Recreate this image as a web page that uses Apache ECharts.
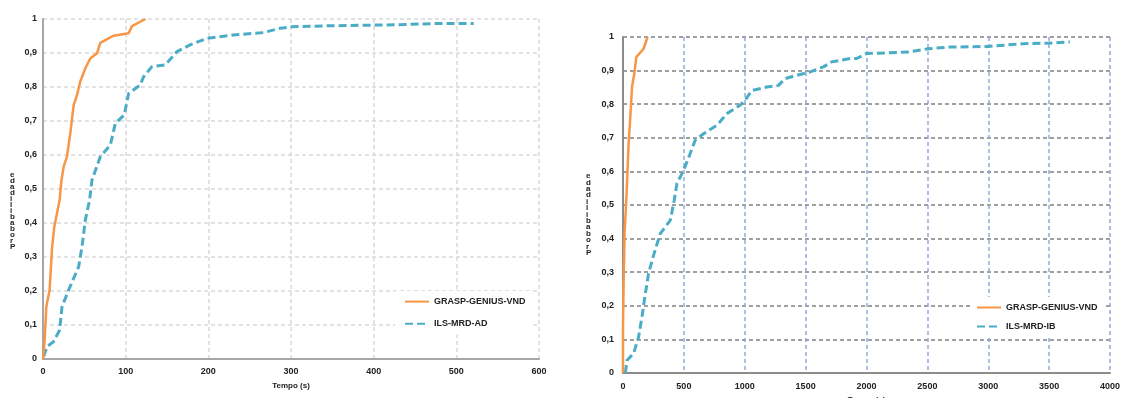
<!DOCTYPE html>
<html>
<head>
<meta charset="utf-8">
<script src="https://cdn.jsdelivr.net/npm/echarts@6/dist/echarts.min.js"></script>
<style>
html,body{margin:0;padding:0;background:#fff;}
#c{width:1122px;height:398px;}
</style>
</head>
<body>
<div id="c"></div>
<script>
// ---- data ----
const leftXTicks = [0,100,200,300,400,500,600];
const rightXTicks = [0,500,1000,1500,2000,2500,3000,3500,4000];

const leftGraspT = [0,2,4,8,10.9,13.7,20.1,22.1,25,29,33,37.1,41.1,45.1,51.2,57.2,65.3,69.3,85.4,103.6,107.6,124];
const leftGraspP = [0,0.056,0.154,0.203,0.326,0.389,0.468,0.521,0.566,0.595,0.664,0.747,0.776,0.816,0.855,0.884,0.899,0.930,0.951,0.958,0.979,1];

const leftIlsT = [0.8,4.8,12.8,20.1,23,31,43.1,47.2,51.2,56.4,59.2,69.3,81.4,87.5,98.3,103.6,117.7,121.7,131.8,148,162,178,198.4,230.6,266.9,287,301,343.5,428,480.6,521];
const leftIlsP = [0.007,0.036,0.051,0.085,0.154,0.203,0.271,0.33,0.409,0.468,0.526,0.595,0.629,0.693,0.718,0.781,0.806,0.830,0.86,0.865,0.904,0.924,0.943,0.953,0.96,0.973,0.977,0.98,0.983,0.987,0.987];

const rightGraspT = [0,0,5,13,27,33,46,60,74,95,109,169,202];
const rightGraspP = [0,0.137,0.266,0.415,0.514,0.564,0.683,0.762,0.851,0.896,0.94,0.965,1];

const rightIlsT = [19,33,87,128,156,175,210,251,306,388,421,443,497,552,593,661,771,853,962,1003,1058,1181,1277,1331,1427,1537,1646,1714,1865,1919,2002,2343,2507,2685,2999,3286,3505,3670];
const rightIlsP = [0,0.038,0.058,0.107,0.167,0.216,0.296,0.35,0.415,0.454,0.514,0.564,0.603,0.653,0.693,0.712,0.737,0.772,0.797,0.812,0.841,0.851,0.856,0.876,0.886,0.896,0.911,0.926,0.936,0.936,0.951,0.955,0.965,0.97,0.972,0.98,0.982,0.985];

const nameGrasp = 'GRASP-GENIUS-VND';
const nameIlsAD = 'ILS-MRD-AD';
const nameIlsIB = 'ILS-MRD-IB';
const xTitle = 'Tempo (s)';
const yTitle = 'Probabilidade';

// ---- build ----
const zip = (t, p) => t.map((v, i) => [v, p[i]]);
const FONT = '"Liberation Sans", Arial, sans-serif';
const ORANGE = '#F79646';
const BLUE = '#4BACC6';
const stacked = yTitle.split('').reverse().join('\n');
const yFmt = v => (v === 0 ? '0' : v === 1 ? '1' : v.toFixed(1).replace('.', ','));
const xFmt = v => String(v);

const chart = echarts.init(document.getElementById('c'), null, {renderer: 'canvas'});
const lab = {fontFamily: FONT, fontWeight: 'bold', fontSize: 9, color: '#222'};

chart.setOption({
  animation: false,
  backgroundColor: '#fff',
  grid: [
    {left: 43, top: 19, width: 496, height: 340, outerBoundsMode: 'none', containLabel: false},
    {left: 623, top: 37, width: 487, height: 336, outerBoundsMode: 'none', containLabel: false}
  ],
  xAxis: [
    {
      gridIndex: 0, type: 'value', min: leftXTicks[0], max: leftXTicks[leftXTicks.length - 1], interval: 100,
      name: xTitle, nameLocation: 'middle', nameGap: 23,
      nameTextStyle: {fontFamily: FONT, fontWeight: 'bold', fontSize: 8, color: '#222'},
      axisLine: {lineStyle: {color: '#a6a6a6', width: 2}},
      axisTick: {show: false},
      axisLabel: Object.assign({margin: 8, formatter: xFmt}, lab),
      splitLine: {show: true, lineStyle: {color: '#d9d9d9', type: [4, 3], width: 1.5}}
    },
    {
      gridIndex: 1, type: 'value', min: rightXTicks[0], max: rightXTicks[rightXTicks.length - 1], interval: 500,
      name: xTitle, nameLocation: 'middle', nameGap: 20,
      nameTextStyle: {fontFamily: FONT, fontWeight: 'bold', fontSize: 8, color: '#222'},
      axisLine: {lineStyle: {color: '#8c8c8c', width: 2}},
      axisTick: {show: false},
      axisLabel: Object.assign({margin: 9, formatter: xFmt}, lab),
      splitLine: {show: true, lineStyle: {color: '#8eaadb', type: [4, 3], width: 1.5}}
    }
  ],
  yAxis: [
    {
      gridIndex: 0, type: 'value', min: 0, max: 1, interval: 0.1,
      axisLine: {show: true, lineStyle: {color: '#a6a6a6', width: 2}},
      axisTick: {show: false},
      axisLabel: Object.assign({margin: 6, formatter: yFmt}, lab),
      splitLine: {show: true, lineStyle: {color: '#d9d9d9', type: [4, 3], width: 1.5}}
    },
    {
      gridIndex: 1, type: 'value', min: 0, max: 1, interval: 0.1,
      axisLine: {show: true, lineStyle: {color: '#8c8c8c', width: 2}},
      axisTick: {show: false},
      axisLabel: Object.assign({margin: 9, formatter: yFmt}, lab),
      splitLine: {show: true, lineStyle: {color: '#808080', type: [4, 3], width: 1.5}}
    }
  ],
  legend: [
    {
      left: 395, top: 291, orient: 'vertical', backgroundColor: '#fff',
      padding: [5, 6, 5, 9], itemGap: 11, itemWidth: 24, itemHeight: 14,
      itemStyle: {opacity: 0},
      textStyle: {fontFamily: FONT, fontWeight: 'bold', fontSize: 9, color: '#222'},
      data: [nameGrasp, nameIlsAD]
    },
    {
      left: 972, top: 297, orient: 'vertical', backgroundColor: '#fff',
      padding: [6, 6, 6, 4], itemGap: 10, itemWidth: 24, itemHeight: 10,
      itemStyle: {opacity: 0},
      textStyle: {fontFamily: FONT, fontWeight: 'bold', fontSize: 9, color: '#222'},
      data: [nameGrasp, nameIlsIB]
    }
  ],
  graphic: [
    {type: 'text', left: 10, top: 171, style: {text: stacked, fontFamily: FONT, fontWeight: 'bold', fontSize: 8, lineHeight: 6, fill: '#222', align: 'center'}},
    {type: 'text', left: 586, top: 172, style: {text: stacked, fontFamily: FONT, fontWeight: 'bold', fontSize: 8, lineHeight: 6.4, fill: '#222', align: 'center'}}
  ],
  series: [
    {
      name: nameGrasp, type: 'line', xAxisIndex: 0, yAxisIndex: 0, symbol: 'none',
      lineStyle: {color: ORANGE, width: 2.5}, itemStyle: {color: ORANGE},
      data: zip(leftGraspT, leftGraspP), z: 3
    },
    {
      name: nameIlsAD, type: 'line', xAxisIndex: 0, yAxisIndex: 0, symbol: 'none',
      lineStyle: {color: BLUE, width: 3, type: [8, 4]}, itemStyle: {color: BLUE},
      data: zip(leftIlsT, leftIlsP), z: 2
    },
    {
      name: nameGrasp, type: 'line', xAxisIndex: 1, yAxisIndex: 1, symbol: 'none',
      lineStyle: {color: ORANGE, width: 2.5}, itemStyle: {color: ORANGE},
      data: zip(rightGraspT, rightGraspP), z: 3
    },
    {
      name: nameIlsIB, type: 'line', xAxisIndex: 1, yAxisIndex: 1, symbol: 'none',
      lineStyle: {color: BLUE, width: 3, type: [8, 4]}, itemStyle: {color: BLUE},
      data: zip(rightIlsT, rightIlsP), z: 2
    }
  ]
});
</script>
</body>
</html>
